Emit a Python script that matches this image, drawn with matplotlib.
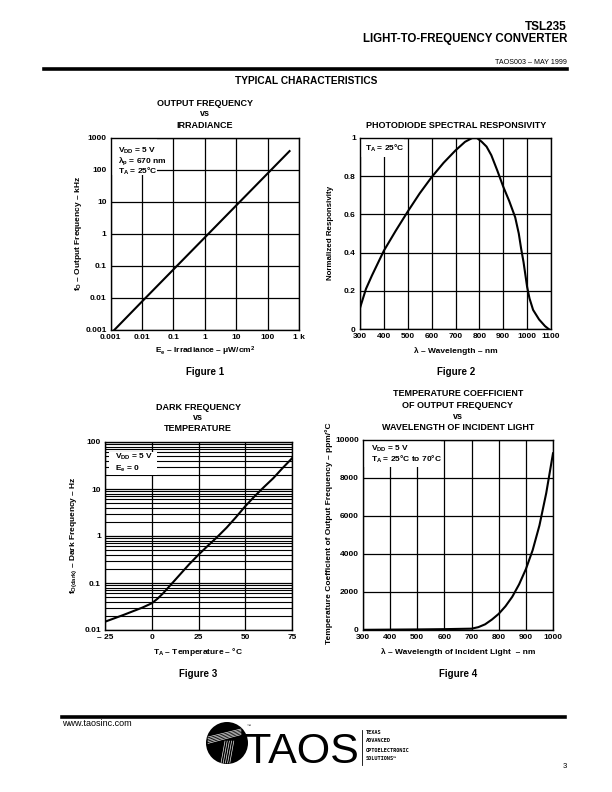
import matplotlib
matplotlib.use('Agg')
import matplotlib.pyplot as plt
from matplotlib.patches import Rectangle, Ellipse
from matplotlib.lines import Line2D
from matplotlib.ticker import NullFormatter, LogLocator, FixedLocator

# ---------------- data ----------------
# Figure 1: output frequency vs irradiance
irr_E = [0.0013, 0.01, 0.1, 1, 10, 100, 500]
irr_f = [0.001, 0.0078, 0.078, 0.78, 7.8, 78, 390]
f1_xticks = [0.001, 0.01, 0.1, 1, 10, 100, 1000]
f1_xlabels = ['0.001', '0.01', '0.1', '1', '10', '100', '1 k']
f1_yticks = [0.001, 0.01, 0.1, 1, 10, 100, 1000]
f1_ylabels = ['0.001', '0.01', '0.1', '1', '10', '100', '1000']

# Figure 2: photodiode spectral responsivity
resp_wl = [300, 325, 350, 375, 400, 450, 500, 550, 600, 650, 700, 740, 770, 790,
           810, 830, 850, 875, 900, 925, 950, 965, 975, 985, 1000, 1010, 1025,
           1050, 1075, 1090]
resp_val = [0.11, 0.21, 0.28, 0.345, 0.41, 0.515, 0.615, 0.71, 0.795, 0.87, 0.935,
            0.98, 1.0, 1.0, 0.98, 0.955, 0.91, 0.83, 0.745, 0.67, 0.585, 0.5,
            0.42, 0.35, 0.22, 0.16, 0.10, 0.05, 0.015, 0.0]
f2_xticks = [300, 400, 500, 600, 700, 800, 900, 1000, 1100]
f2_yticks = [0, 0.2, 0.4, 0.6, 0.8, 1.0]
f2_ylabels = ['0', '0.2', '0.4', '0.6', '0.8', '1']

# Figure 3: dark frequency vs temperature
dark_T = [-25, -15, -5, 0, 3, 6, 10, 15, 20, 25, 30, 35, 40, 45, 50, 55, 60, 65, 70, 75]
dark_f = [0.015, 0.021, 0.030, 0.037, 0.046, 0.060, 0.090, 0.15, 0.25, 0.40, 0.62,
          0.95, 1.5, 2.5, 4.3, 7.0, 11, 17, 28, 45]
f3_xticks = [-25, 0, 25, 50, 75]
f3_xlabels = ['\u2013 25', '0', '25', '50', '75']
f3_yticks = [0.01, 0.1, 1, 10, 100]
f3_ylabels = ['0.01', '0.1', '1', '10', '100']

# Figure 4: temperature coefficient vs wavelength
tc_wl = [300, 400, 500, 600, 700, 725, 750, 775, 800, 825, 850, 875, 900, 925, 950, 975, 1000]
tc_val = [10, 20, 30, 45, 70, 150, 300, 550, 850, 1250, 1750, 2400, 3200, 4200, 5500, 7200, 9300]
f4_xticks = [300, 400, 500, 600, 700, 800, 900, 1000]
f4_yticks = [0, 2000, 4000, 6000, 8000, 10000]

# ---------------- style ----------------
plt.rcParams['font.family'] = ['Liberation Sans', 'DejaVu Sans']
plt.rcParams['font.weight'] = 'bold'
plt.rcParams['mathtext.fontset'] = 'custom'
plt.rcParams['mathtext.rm'] = 'Liberation Sans:bold'
plt.rcParams['mathtext.it'] = 'Liberation Sans:bold'
plt.rcParams['mathtext.bf'] = 'Liberation Sans:bold'
plt.rcParams['mathtext.default'] = 'rm'

W, H = 612.0, 792.0
fig = plt.figure(figsize=(6.12, 7.92), dpi=100)
D = '\u2013'


def fx(x):
    return x / W


def fy(y):
    return 1 - y / H


def T(x, y, s, size=6.5, ha='center', va='center', weight='bold', **kw):
    fig.text(fx(x), fy(y), s, fontsize=size, ha=ha, va=va, fontweight=weight, **kw)


def make_ax(x0, x1, y0, y1):
    ax = fig.add_axes([fx(x0), fy(y1), (x1 - x0) / W, (y1 - y0) / H])
    for s in ax.spines.values():
        s.set_linewidth(1.0)
        s.set_zorder(5)
    ax.tick_params(which='both', length=0, pad=3, labelsize=6)
    ax.set_axisbelow(True)
    return ax


def white_box(ax, x0, x1, y0, y1):
    ax.add_patch(Rectangle((fx(x0), fy(y1)), (x1 - x0) / W, (y1 - y0) / H,
                           transform=fig.transFigure, facecolor='white',
                           edgecolor='none', zorder=3))


GRID = dict(color='black', linewidth=0.9)
CURVE = dict(color='black', linewidth=1.5, solid_joinstyle='round', zorder=4)
BOX_FS = 6.0

# ---------------- header ----------------
T(567, 27, 'TSL235', size=8.5, ha='right')
T(567, 39, 'LIGHT-TO-FREQUENCY CONVERTER', size=8.3, ha='right')
T(567, 62, 'TAOS003 ' + D + ' MAY 1999', size=5.1, ha='right', weight='normal')
fig.add_artist(Line2D([fx(44), fx(567)], [fy(69), fy(69)], color='black', linewidth=2.6))
T(306, 81, 'TYPICAL CHARACTERISTICS', size=7.3)

# ---------------- Figure 1 ----------------
ax1 = make_ax(110.7, 299, 138, 330)
ax1.set_xscale('log')
ax1.set_yscale('log')
ax1.set_xlim(1e-3, 1e3)
ax1.set_ylim(1e-3, 1e3)
ax1.set_xticks(f1_xticks)
ax1.set_xticklabels(f1_xlabels)
ax1.set_yticks(f1_yticks)
ax1.set_yticklabels(f1_ylabels)
ax1.xaxis.set_minor_locator(FixedLocator([]))
ax1.yaxis.set_minor_locator(FixedLocator([]))
ax1.grid(True, which='major', **GRID)
ax1.plot(irr_E, irr_f, **CURVE)
white_box(ax1, 111, 157, 139, 175)
T(118, 150.5, r'V$_{\rm DD}$ = 5 V', size=BOX_FS, ha='left', zorder=6)
T(118, 161, r'$\lambda_{\rm p}$ = 670 nm', size=BOX_FS, ha='left', zorder=6)
T(118, 171.5, r'T$_{\rm A}$ = 25°C', size=BOX_FS, ha='left', zorder=6)
T(205, 103, 'OUTPUT FREQUENCY')
T(205, 114, 'vs')
T(205, 126, 'IRRADIANCE')
T(205, 351, r'E$_{\rm e}$ ' + D + r' Irradiance ' + D + r' $\mu$W/cm$^{2}$', size=6)
T(78, 233, r'f$_{\rm O}$ ' + D + ' Output Frequency ' + D + ' kHz', size=6, rotation=90)
T(205, 372, 'Figure 1', size=7)

# ---------------- Figure 2 ----------------
ax2 = make_ax(360, 551, 138, 329)
ax2.set_xlim(300, 1100)
ax2.set_ylim(0, 1)
ax2.set_xticks(f2_xticks)
ax2.set_yticks(f2_yticks)
ax2.set_yticklabels(f2_ylabels)
ax2.grid(True, **GRID)
ax2.plot(resp_wl, resp_val, **CURVE)
white_box(ax2, 361, 404, 139, 157)
T(365, 148, r'T$_{\rm A}$ = 25°C', size=BOX_FS, ha='left', zorder=6)
T(456, 125, 'PHOTODIODE SPECTRAL RESPONSIVITY')
T(456, 351, '\u03bb ' + D + ' Wavelength ' + D + ' nm', size=6)
T(331, 233, 'Normalized Responsivity', size=5.7, rotation=90)
T(456, 372, 'Figure 2', size=7)

# ---------------- Figure 3 ----------------
ax3 = make_ax(105, 292, 442, 630)
ax3.set_yscale('log')
ax3.set_xlim(-25, 75)
ax3.set_ylim(0.01, 100)
ax3.set_xticks(f3_xticks)
ax3.set_xticklabels(f3_xlabels)
ax3.set_yticks(f3_yticks)
ax3.set_yticklabels(f3_ylabels)
ax3.yaxis.set_minor_locator(LogLocator(base=10, subs=[2, 3, 4, 5, 6, 7, 8, 9]))
ax3.yaxis.set_minor_formatter(NullFormatter())
ax3.grid(True, which='major', **GRID)
ax3.grid(True, which='minor', axis='y', color='black', linewidth=0.8)
ax3.plot(dark_T, dark_f, **CURVE)
white_box(ax3, 109, 157, 452, 475)
T(115, 457, r'V$_{\rm DD}$ = 5 V', size=BOX_FS, ha='left', zorder=6)
T(115, 468.5, r'E$_{\rm e}$ = 0', size=BOX_FS, ha='left', zorder=6)
T(198, 408, 'DARK FREQUENCY')
T(198, 418, 'vs')
T(198, 429, 'TEMPERATURE')
T(198, 652, r'T$_{\rm A}$ ' + D + ' Temperature ' + D + ' °C', size=6)
T(74, 535, r'f$_{\rm O(dark)}$ ' + D + ' Dark Frequency ' + D + ' Hz', size=6, rotation=90)
T(198, 674, 'Figure 3', size=7)

# ---------------- Figure 4 ----------------
ax4 = make_ax(363, 553, 440, 630)
ax4.set_xlim(300, 1000)
ax4.set_ylim(0, 10000)
ax4.set_xticks(f4_xticks)
ax4.set_yticks(f4_yticks)
ax4.grid(True, **GRID)
ax4.plot(tc_wl, tc_val, **CURVE)
white_box(ax4, 364, 441, 441, 467)
T(371, 448.5, r'V$_{\rm DD}$ = 5 V', size=BOX_FS, ha='left', zorder=6)
T(371, 459, r'T$_{\rm A}$ = 25°C to 70°C', size=BOX_FS, ha='left', zorder=6)
T(458, 394, 'TEMPERATURE COEFFICIENT')
T(458, 405, 'OF OUTPUT FREQUENCY')
T(458, 416, 'vs')
T(458, 427, 'WAVELENGTH OF INCIDENT LIGHT')
T(458, 652, '\u03bb ' + D + ' Wavelength of Incident Light  ' + D + ' nm', size=6)
T(329, 533, 'Temperature Coefficient of Output Frequency ' + D + ' ppm/°C', size=6, rotation=90)
T(458, 674, 'Figure 4', size=7)

# ---------------- footer ----------------
fig.add_artist(Line2D([fx(62), fx(565)], [fy(717), fy(717)], color='black', linewidth=2.6))
T(62, 724, 'www.taosinc.com', size=6.5, ha='left', weight='normal')
T(567, 766, '3', size=5.5, ha='right', weight='normal')

# TAOS logo
cx, cy, r = 227, 743, 21
fig.add_artist(Ellipse((fx(cx), fy(cy)), 2 * r / W, 2 * r / H, transform=fig.transFigure,
                       facecolor='black', edgecolor='none'))
for k in range(5):
    fig.add_artist(Line2D([fx(208), fx(241)], [fy(737 + 1.6 * k), fy(729 + 1.4 * k)],
                          color='white', linewidth=0.45))
    fig.add_artist(Line2D([fx(225 + 2.2 * k), fx(221 + 2.2 * k)], [fy(741), fy(763)],
                          color='white', linewidth=0.45))
T(247, 726, '\u2122', size=3, ha='left', weight='normal')
T(245, 763, 'TAOS', size=31, ha='left', va='baseline', weight='normal')
fig.add_artist(Line2D([fx(362), fx(362)], [fy(730), fy(765)], color='black', linewidth=0.6))
for i, s in enumerate(['TEXAS', 'ADVANCED', 'OPTOELECTRONIC', 'SOLUTIONS\u2122']):
    fig.text(fx(366), fy(732 + 9 * i), s, fontsize=3.8, ha='left', va='center',
             fontweight='bold', family=['DejaVu Sans Mono', 'DejaVu Sans'])

fig.savefig('out.png', dpi=100)
